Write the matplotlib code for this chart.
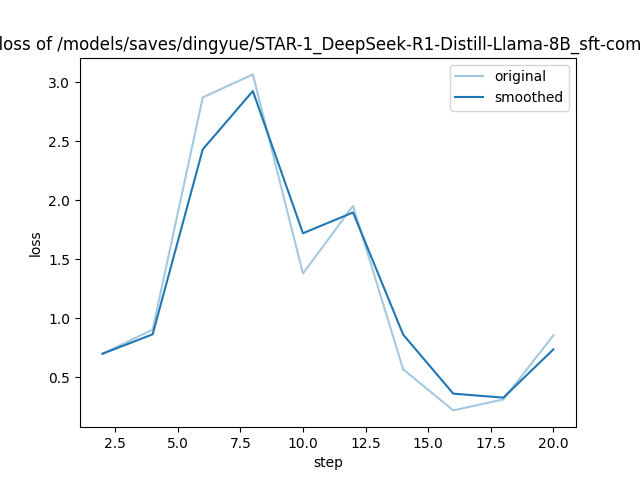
import matplotlib
matplotlib.use("Agg")
import matplotlib.pyplot as plt

steps = [2, 4, 6, 8, 10, 12, 14, 16, 18, 20]
original = [0.70, 0.904, 2.870, 3.065, 1.379, 1.952, 0.568, 0.220, 0.313, 0.856]
smoothed = [0.70, 0.864, 2.430, 2.924, 1.720, 1.896, 0.862, 0.362, 0.328, 0.737]

# title is wider than the figure in the reference, so it gets clipped on both sides
title = "training loss of /models/saves/dingyue/STAR-1_DeepSeek-R1-Distill-Llama-8B_sft-combined_v10"

fig, ax = plt.subplots(figsize=(6.4, 4.8), dpi=100)
ax.plot(steps, original, color="#1f77b4", alpha=0.4, label="original")
ax.plot(steps, smoothed, color="#1f77b4", label="smoothed")
ax.set_title(title)
ax.set_xlabel("step")
ax.set_ylabel("loss")
ax.legend()
fig.savefig("out.png")
